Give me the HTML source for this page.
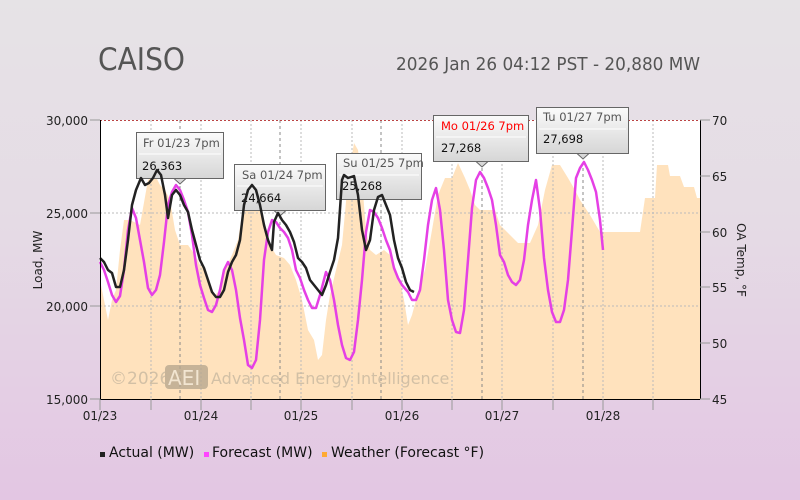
<!DOCTYPE html>
<html><head><meta charset="utf-8"><style>
html,body{margin:0;padding:0;width:800px;height:500px;overflow:hidden}
body{background:linear-gradient(to bottom,#e6e3e6 0%,#e5dbe5 45%,#e3c6e3 100%);font-family:"DejaVu Sans","Liberation Sans",sans-serif}
svg text{font-family:"DejaVu Sans","Liberation Sans",sans-serif}
</style></head><body>
<svg width="800" height="500" viewBox="0 0 800 500" xmlns="http://www.w3.org/2000/svg">
<defs>
<linearGradient id="tg" x1="0" y1="0" x2="0" y2="1"><stop offset="0" stop-color="#fbfbfb"/><stop offset="1" stop-color="#d6d6d6"/></linearGradient>
</defs>
<text x="98" y="70" font-size="31" fill="#555" textLength="87" lengthAdjust="spacingAndGlyphs">CAISO</text>
<text x="700" y="70" font-size="18" fill="#555" text-anchor="end" textLength="304" lengthAdjust="spacingAndGlyphs">2026 Jan 26 04:12 PST - 20,880 MW</text>
<rect x="100" y="120" width="600" height="279" fill="#fff"/>
<!-- weather fill -->
<polygon fill="#ffe2bd" points="100,399 100,280 104,300 108,320 112,300 116,290 120,250 124,220 130,220 140,225 148,180 155,175 160,185 165,190 170,200 175,230 180,245 188,245 195,255 200,265 205,270 210,285 215,295 220,290 225,270 232,255 238,240 242,215 246,195 252,190 258,205 262,215 266,230 270,245 276,255 284,258 290,265 296,280 302,300 308,330 314,340 318,360 322,355 326,320 330,295 336,270 342,245 348,180 354,143 358,150 362,180 366,230 370,250 376,255 384,250 390,255 396,270 400,280 404,300 408,325 412,315 416,300 420,285 425,270 432,230 438,195 445,178 452,178 458,163 465,178 470,190 475,205 480,210 495,210 500,225 510,235 518,243 530,243 538,225 545,190 552,165 560,165 568,178 575,190 580,200 590,215 600,232 640,232 645,198 655,198 657,165 668,165 670,176 680,176 684,187 694,187 697,198 700,198 700,399"/>
<!-- grid -->
<g stroke="#bbb" stroke-dasharray="2,2" stroke-width="1">
<line x1="100" y1="213" x2="700" y2="213"/><line x1="100" y1="306" x2="700" y2="306"/>
<line x1="151" y1="120" x2="151" y2="399"/><line x1="251" y1="120" x2="251" y2="399"/><line x1="352" y1="120" x2="352" y2="399"/><line x1="452" y1="120" x2="452" y2="399"/><line x1="553" y1="120" x2="553" y2="399"/><line x1="653" y1="120" x2="653" y2="399"/>
<line x1="201" y1="120" x2="201" y2="399"/><line x1="301" y1="120" x2="301" y2="399"/><line x1="402" y1="120" x2="402" y2="399"/><line x1="502" y1="120" x2="502" y2="399"/><line x1="603" y1="120" x2="603" y2="399"/>
</g>
<g stroke="#888" stroke-dasharray="3,3" stroke-width="1">
<line x1="180" y1="120" x2="180" y2="399"/><line x1="280" y1="120" x2="280" y2="399"/><line x1="381" y1="120" x2="381" y2="399"/><line x1="482" y1="120" x2="482" y2="399"/><line x1="583" y1="120" x2="583" y2="399"/>
</g>
<line x1="100" y1="120.5" x2="700" y2="120.5" stroke="#b44" stroke-dasharray="2,2"/>
<!-- watermark -->
<g opacity="0.8">
<text x="110" y="384" font-size="17" fill="#c8b8a0" >©2026</text>
<rect x="165" y="365" width="43" height="24" rx="4" fill="#b8a890"/>
<text x="168" y="385" font-size="20" fill="#f0e6d6">AEI</text>
<text x="211" y="384" font-size="16" fill="#c8b8a0">Advanced Energy Intelligence</text>
</g>
<!-- tooltips -->
<g font-size="11.5">
<g><rect x="136.5" y="132.5" width="87" height="46" fill="url(#tg)" stroke="#666"/><polygon points="174,178.5 180,184 186,178.5" fill="#d8d8d8" stroke="#666"/><line x1="139" y1="154" x2="221" y2="154" stroke="#fff"/><text x="143" y="147" fill="#555">Fr 01/23 7pm</text><text x="142" y="170" fill="#111">26,363</text></g>
<g><rect x="234.5" y="164.5" width="91" height="46" fill="url(#tg)" stroke="#666"/><polygon points="274,210.5 280,216 286,210.5" fill="#d8d8d8" stroke="#666"/><line x1="237" y1="186" x2="323" y2="186" stroke="#fff"/><text x="242" y="179" fill="#555">Sa 01/24 7pm</text><text x="241" y="202" fill="#111">24,664</text></g>
<g><rect x="336.5" y="153.5" width="85" height="46" fill="url(#tg)" stroke="#666"/><line x1="339" y1="175" x2="419" y2="175" stroke="#fff"/><text x="343" y="167" fill="#555">Su 01/25 7pm</text><text x="342" y="190" fill="#111">25,268</text></g>
<g><rect x="433.5" y="115.5" width="95" height="46" fill="url(#tg)" stroke="#666"/><polygon points="476,161.5 482,167 488,161.5" fill="#d8d8d8" stroke="#666"/><line x1="436" y1="137" x2="526" y2="137" stroke="#fff"/><text x="441" y="130" fill="#f00">Mo 01/26 7pm</text><text x="441" y="152" fill="#111">27,268</text></g>
<g><rect x="536.5" y="107.5" width="92" height="46" fill="url(#tg)" stroke="#666"/><polygon points="577,153.5 583,159 589,153.5" fill="#d8d8d8" stroke="#666"/><line x1="539" y1="129" x2="626" y2="129" stroke="#fff"/><text x="543" y="121" fill="#555">Tu 01/27 7pm</text><text x="543" y="143" fill="#111">27,698</text></g>
</g>
<!-- forecast -->
<polyline fill="none" stroke="#e540e5" stroke-width="2.5" stroke-linejoin="round" points="100,262 104,270 108,282 112,295 116,302 120,296 124,270 128,230 132,208 136,218 140,240 144,262 148,288 152,295 156,290 160,275 164,242 168,205 172,192 176,185 180,190 184,200 188,212 192,235 196,265 200,285 204,298 208,310 212,312 216,305 220,290 224,270 228,262 232,270 236,290 240,318 244,340 248,365 252,368 256,360 260,320 264,260 268,232 272,220 276,222 280,228 284,232 288,238 292,250 296,270 300,278 304,290 308,300 312,308 316,308 320,295 326,272 330,280 334,300 338,325 342,345 346,358 350,360 354,352 358,320 362,280 366,232 370,210 374,212 378,218 382,228 386,240 390,250 394,268 398,278 402,285 408,292 412,300 416,300 420,290 424,260 428,225 432,200 436,188 440,210 444,250 448,300 452,320 456,332 460,333 464,310 468,260 472,208 476,180 480,172 484,178 488,188 492,200 496,225 500,255 504,262 508,275 512,282 516,285 520,280 524,260 528,225 532,200 536,180 540,210 544,258 548,290 552,312 556,322 560,322 564,310 568,280 572,230 576,178 580,168 584,162 588,170 592,180 596,192 600,220 603,250"/>
<!-- actual -->
<polyline fill="none" stroke="#222" stroke-width="2.5" stroke-linejoin="round" points="100,258 104,262 108,270 112,273 116,287 120,287 124,270 128,240 132,205 136,190 141,178 145,185 149,183 153,178 157,170 161,175 165,195 168,218 172,195 176,190 180,195 184,205 188,212 192,230 196,245 200,260 204,268 208,280 212,292 216,297 220,297 224,290 228,272 232,262 236,255 240,240 244,205 248,190 252,185 256,190 260,205 264,225 268,240 272,250 274,222 278,213 282,220 286,225 290,232 294,242 298,258 302,262 306,268 310,280 314,285 318,290 322,295 326,285 330,272 334,260 338,238 342,180 344,175 348,178 354,176 358,195 362,230 366,250 370,240 374,210 378,197 382,195 386,205 390,215 394,240 398,258 402,268 406,282 410,290 414,292"/>
<!-- axes -->
<line x1="100.5" y1="120" x2="100.5" y2="399" stroke="#000"/>
<line x1="700.5" y1="120" x2="700.5" y2="399" stroke="#000"/>
<line x1="100" y1="399.5" x2="700" y2="399.5" stroke="#000"/>
<g stroke="#999">
<line x1="90" y1="120" x2="100" y2="120"/><line x1="90" y1="213" x2="100" y2="213"/><line x1="90" y1="306" x2="100" y2="306"/><line x1="90" y1="399" x2="100" y2="399"/>
<line x1="700" y1="120" x2="710" y2="120"/><line x1="700" y1="176" x2="710" y2="176"/><line x1="700" y1="232" x2="710" y2="232"/><line x1="700" y1="287" x2="710" y2="287"/><line x1="700" y1="343" x2="710" y2="343"/><line x1="700" y1="399" x2="710" y2="399"/>
<line x1="100" y1="399" x2="100" y2="410"/><line x1="151" y1="399" x2="151" y2="410"/><line x1="201" y1="399" x2="201" y2="410"/><line x1="251" y1="399" x2="251" y2="410"/><line x1="301" y1="399" x2="301" y2="410"/><line x1="352" y1="399" x2="352" y2="410"/><line x1="402" y1="399" x2="402" y2="410"/><line x1="452" y1="399" x2="452" y2="410"/><line x1="502" y1="399" x2="502" y2="410"/><line x1="553" y1="399" x2="553" y2="410"/><line x1="603" y1="399" x2="603" y2="410"/><line x1="653" y1="399" x2="653" y2="410"/>
</g>
<g font-size="12" fill="#222" text-anchor="end">
<text x="88" y="125">30,000</text><text x="88" y="218">25,000</text><text x="88" y="311">20,000</text><text x="88" y="404">15,000</text>
</g>
<g font-size="12" fill="#222">
<text x="712" y="125">70</text><text x="712" y="181">65</text><text x="712" y="237">60</text><text x="712" y="292">55</text><text x="712" y="348">50</text><text x="712" y="404">45</text>
</g>
<g font-size="12" fill="#222" text-anchor="middle">
<text x="100" y="420">01/23</text><text x="201" y="420">01/24</text><text x="301" y="420">01/25</text><text x="402" y="420">01/26</text><text x="502" y="420">01/27</text><text x="603" y="420">01/28</text>
</g>
<text transform="translate(42,260) rotate(-90)" font-size="12" fill="#222" text-anchor="middle">Load, MW</text>
<text transform="translate(737,260) rotate(90)" font-size="12" fill="#222" text-anchor="middle">OA Temp, °F</text>
<!-- legend -->
<g font-size="14" fill="#111">
<rect x="100" y="452" width="5" height="5" fill="#222"/><text x="109" y="457">Actual (MW)</text>
<rect x="204" y="452" width="5" height="5" fill="#ff44ff"/><text x="212" y="457">Forecast (MW)</text>
<rect x="322" y="452" width="5" height="5" fill="#ffaa33"/><text x="331" y="457">Weather (Forecast °F)</text>
</g>
</svg>
</body></html>
